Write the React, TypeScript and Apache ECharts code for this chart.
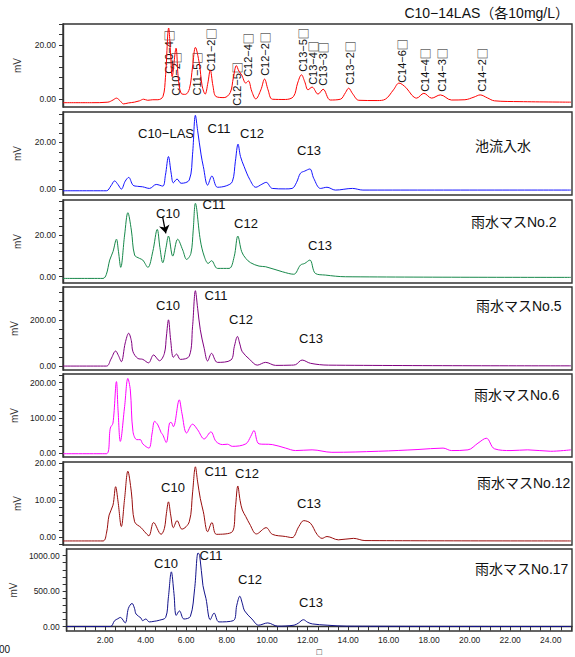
import React, { useEffect, useRef } from "react";
import * as echarts from "echarts";

// ---------- data (retention time [min], signal [mV]) ----------
const stdLAS: number[][] = [
  [0.1, -1.3], [1.5, -1.3], [2.3, -1.1], [2.55, -0.3], [2.72, 0.4], [2.9, -0.6], [3.07, -1.75], [3.3, -1.4],
  [3.6, -1.1], [3.85, -0.6], [4.05, 0], [4.25, -0.4], [4.5, -0.2], [4.75, -0.2], [5.0, 1.0], [5.12, 8],
  [5.28, 26.5], [5.38, 16], [5.45, 8.4], [5.64, 19], [5.75, 8], [5.89, 2.2], [6.1, 1.8], [6.3, 4], [6.45, 12],
  [6.59, 19.3], [6.78, 13.4], [6.92, 5], [7.07, 1.9], [7.2, 6], [7.32, 10.9], [7.45, 5], [7.6, 1.0], [8.0, 0.6],
  [8.3, 2.5], [8.45, 8], [8.6, 12.5], [8.72, 10.5], [8.86, 9], [9.06, 6], [9.19, 6.8], [9.35, 3], [9.55, 0.1],
  [9.8, 3.5], [9.98, 7.5], [10.15, 3.5], [10.36, 0], [11.0, -0.1], [11.4, 1], [11.6, 6], [11.79, 9.1],
  [11.95, 6.5], [12.11, 3.5], [12.31, 4.5], [12.6, 1.9], [12.85, 3.7], [13.2, -0.3], [13.7, 0], [13.95, 2.5],
  [14.1, 4.1], [14.3, 2.0], [14.6, -0.4], [15.5, -0.5], [15.9, 0], [16.3, 3.5], [16.57, 6], [16.94, 4.1],
  [17.2, 1.5], [17.43, 0.4], [17.79, 2.2], [18.17, 0.4], [18.6, 1.6], [19.14, -0.3], [19.8, -0.2], [20.25, 0.8],
  [20.55, 1.6], [20.9, 0.5], [21.25, -0.6], [22.5, -0.9], [25, -1.1],
];

const inflow: number[][] = [
  [0.1, -0.6], [2.23, -0.6], [2.45, 1.5], [2.63, 3.6], [2.8, 2], [2.96, 0.1], [3.15, 3.5], [3.32, 5.1],
  [3.53, 1.8], [3.75, 1.3], [4.0, 1.1], [4.34, 0.4], [4.67, 2.1], [4.99, 1.4], [5.12, 6], [5.27, 14], [5.4, 7],
  [5.51, 2.8], [5.69, 4.4], [5.89, 2.6], [6.29, 4.0], [6.45, 15], [6.59, 31.6], [6.7, 25], [6.87, 14.7],
  [6.98, 9.7], [7.19, 1.8], [7.4, 5.7], [7.67, 0.9], [8.1, 1.5], [8.4, 3.3], [8.55, 12], [8.68, 19.3], [8.8, 14],
  [8.98, 9.7], [9.25, 4.3], [9.55, 0.9], [9.85, 2.2], [10.06, 3.0], [10.36, 0.4], [11.0, 0.2], [11.33, 0.4],
  [11.55, 3], [11.74, 6.9], [11.95, 7.8], [12.2, 8.7], [12.39, 4.7], [12.72, 0.4], [13.04, 0.9], [13.45, -0.3],
  [14.29, 0.4], [14.8, -0.3], [25, -0.3],
];

const no2: number[][] = [
  [0.1, -0.8], [2.06, -0.8], [2.22, 1], [2.39, 8.0], [2.55, 12], [2.72, 18], [2.82, 12], [2.93, 4.5], [3.12, 20],
  [3.28, 30.7], [3.45, 22.4], [3.61, 10.4], [3.85, 8.8], [4.01, 8.0], [4.26, 4.5], [4.5, 12], [4.72, 22.7],
  [4.85, 14], [4.99, 6.7], [5.15, 14], [5.27, 19.5], [5.48, 9.9], [5.72, 18], [5.97, 12.8], [6.16, 8.3],
  [6.37, 11.2], [6.48, 22], [6.59, 35.2], [6.83, 17.6], [7.02, 9.9], [7.22, 6.4], [7.38, 7.7], [7.67, 4.0],
  [8.24, 4.0], [8.49, 9.6], [8.67, 19.5], [8.86, 12], [9.06, 8.8], [9.3, 6.7], [9.71, 5.1], [10.03, 4.8],
  [10.85, 2.4], [11.41, 1.2], [11.74, 5.6], [11.95, 6.4], [12.2, 8.0], [12.47, 1.6], [12.96, 0.8], [13.94, 0],
  [25, -0.3],
];

const no5: number[][] = [
  [0.1, 0], [2.23, 0], [2.45, 30], [2.68, 65], [2.82, 45], [2.96, 19], [3.15, 100], [3.32, 142], [3.45, 110],
  [3.53, 62], [3.77, 33], [4.01, 29], [4.29, 14], [4.54, 48], [4.83, 23], [5.07, 55], [5.17, 130], [5.27, 200],
  [5.38, 110], [5.51, 38], [5.67, 52], [5.85, 29], [6.29, 43], [6.45, 170], [6.59, 326], [6.7, 250],
  [6.83, 157], [7.02, 77], [7.19, 22], [7.38, 55], [7.67, 16], [8.33, 26], [8.5, 85], [8.65, 128], [8.77, 95],
  [8.89, 62], [9.25, 29], [9.62, 4], [10.03, 16], [10.52, 3], [11.3, 4], [11.5, 6], [11.82, 26], [12.23, 12],
  [13.12, 4], [25, 1],
];

const no6: number[][] = [
  [0.1, -2], [2.23, -2], [2.42, 71], [2.55, 85], [2.72, 203], [2.8, 120], [2.91, 33], [3.12, 132], [3.28, 212],
  [3.4, 179], [3.53, 61], [3.72, 38], [3.89, 38], [4.01, 26], [4.31, 14], [4.47, 57], [4.59, 90], [4.75, 80],
  [4.91, 58], [4.99, 52], [5.16, 30], [5.32, 85], [5.4, 87], [5.51, 75], [5.8, 151], [5.93, 113], [6.16, 57],
  [6.45, 82], [6.7, 66], [7.02, 40], [7.35, 60], [7.6, 33], [7.92, 24], [8.16, 25], [8.4, 19], [9.06, 26],
  [9.3, 47], [9.46, 64], [9.71, 26], [10.36, 24], [11.01, 14], [11.5, 7], [12.31, 9], [13.28, 2], [15.56, 5],
  [17.5, 10], [18.73, 14], [19.14, 7], [19.95, 9], [20.44, 28], [20.85, 42], [21.25, 12], [22.06, 7],
  [22.88, 9], [24.0, 5], [25, 9],
];

const no12: number[][] = [
  [0.1, -1], [2.06, -1], [2.23, 1.1], [2.36, 6.0], [2.55, 8.7], [2.68, 13.7], [2.8, 9.6], [2.96, 2.9],
  [3.12, 10.5], [3.28, 17.9], [3.45, 12.3], [3.61, 4.2], [3.93, 2.6], [4.1, 1.5], [4.31, 0.4], [4.54, 4.0],
  [4.91, 0.8], [5.07, 2.4], [5.17, 6.5], [5.27, 9.6], [5.38, 6], [5.51, 2.6], [5.69, 4.5], [5.93, 2.2],
  [6.29, 4.2], [6.45, 12], [6.59, 19.1], [6.7, 15], [6.83, 10.5], [6.98, 6.9], [7.19, 1.5], [7.4, 4.0],
  [7.62, 0.8], [8.4, 1.5], [8.55, 8], [8.67, 13.9], [8.78, 10], [8.89, 7.4], [9.06, 5.6], [9.25, 3.6],
  [9.58, 0.9], [10.06, 2.6], [10.36, 0.8], [11.01, 0.2], [11.33, -0.1], [11.66, 2.9], [11.9, 4.5], [12.23, 3.8],
  [12.55, 0.8], [12.8, -0.3], [13.04, 0.2], [13.6, -0.7], [14.34, -0.3], [14.9, -0.9], [25, -1],
];

const no17: number[][] = [
  [0.1, 0], [2.26, 0], [2.47, 83], [2.63, 110], [2.75, 129], [2.99, 51], [3.15, 257], [3.33, 326], [3.45, 257],
  [3.53, 175], [3.77, 120], [3.85, 83], [4.01, 106], [4.18, 65], [4.42, 74], [4.67, 88], [4.99, 129], [5.12, 400],
  [5.27, 771], [5.4, 464], [5.51, 157], [5.67, 220], [5.89, 106], [6.21, 143], [6.42, 533], [6.59, 1038],
  [6.67, 1001], [6.83, 578], [6.98, 395], [7.19, 96], [7.38, 189], [7.62, 65], [8.33, 83], [8.5, 300],
  [8.65, 427], [8.77, 330], [8.89, 220], [9.25, 106], [9.58, 19], [10.03, 51], [10.52, 5], [11.33, 19],
  [11.55, 50], [11.79, 96], [12.0, 60], [12.23, 37], [12.96, 19], [13.94, 5], [25, 0],
];

const panelSeries = [stdLAS, inflow, no2, no5, no6, no12, no17];
const panelNames = ["C10−14LAS（各10mg/L）", "池流入水", "雨水マスNo.2", "雨水マスNo.5", "雨水マスNo.6", "雨水マスNo.12", "雨水マスNo.17"];
const yLabelValues = [[0, 20], [0, 20], [0, 20], [0, 200], [0, 100, 200], [0, 10, 20], [0, 500, 1000]];
const yTickSteps = [4, 4, 4, 40, 20, 2, 100];
const yRanges = [[-2.9, 28], [-2.4, 33], [-3.0, 36.8], [-17, 342], [-11.3, 224.6], [-2.1, 20.4], [-63, 1093]];
const xTickLabels = [2, 4, 6, 8, 10, 12, 14, 16, 18, 20, 22, 24];
const xRange = [0.1, 25.05];
const arrowFrom = [4.98, 28.8];
const arrowTo = [5.14, 20.8];

// ---------- styles / layout ----------
const COLORS = ["#ff0000", "#1414ff", "#17884a", "#800080", "#ff00ff", "#980c0c", "#12128a"];
const GRID_TOPS = [24, 112, 200, 287, 374, 462, 549];
const GRID_H = [83, 83, 83, 83, 83, 83, 84];
const LEFT = 63;
const RIGHT_EDGE = 572;
const FONT = '"Liberation Sans", Arial, "Noto Sans CJK JP", sans-serif';
const CJK = '"Noto Sans CJK JP", sans-serif';

const stdPeakLabels = [
  { t: "C10−4", x: 169, y: 52 }, { t: "C10−2", x: 176, y: 74 }, { t: "C11−5", x: 197, y: 74 },
  { t: "C11−2", x: 211, y: 50 }, { t: "C12−5", x: 237, y: 84 }, { t: "C12−4", x: 248, y: 55 },
  { t: "C12−2", x: 265, y: 54 }, { t: "C13−5", x: 303, y: 50 }, { t: "C13−4", x: 313, y: 63 },
  { t: "C13−3", x: 323, y: 64 }, { t: "C13−2", x: 350, y: 63 }, { t: "C14−6", x: 402, y: 61 },
  { t: "C14−4", x: 425, y: 70 }, { t: "C14−3", x: 442, y: 70 }, { t: "C14−2", x: 482, y: 70 },
];
const peakLabels = [
  { t: "C10−LAS", x: 166, y: 133 }, { t: "C11", x: 219, y: 128 }, { t: "C12", x: 252, y: 133 }, { t: "C13", x: 309, y: 150 },
  { t: "C10", x: 168, y: 213 }, { t: "C11", x: 214, y: 204 }, { t: "C12", x: 246, y: 223 }, { t: "C13", x: 320, y: 245 },
  { t: "C10", x: 168, y: 305 }, { t: "C11", x: 216, y: 295 }, { t: "C12", x: 241, y: 319 }, { t: "C13", x: 311, y: 338 },
  { t: "C10", x: 173, y: 487 }, { t: "C11", x: 216, y: 471 }, { t: "C12", x: 247, y: 473 }, { t: "C13", x: 309, y: 503 },
  { t: "C10", x: 166, y: 563 }, { t: "C11", x: 211, y: 555 }, { t: "C12", x: 250, y: 579 }, { t: "C13", x: 311, y: 602 },
];
const nameLabelPos = [
  null, { x: 475, y: 146 }, { x: 471, y: 222 }, { x: 476, y: 306 }, { x: 474, y: 395 }, { x: 477, y: 483 }, { x: 475, y: 569 },
];

function ticksFor(min: number, max: number, step: number): number[] {
  const out: number[] = [];
  for (let v = Math.ceil(min / step) * step; v <= max + 1e-9; v += step) out.push(+v.toFixed(6));
  return out;
}

export default function App() {
  const ref = useRef<HTMLDivElement>(null);
  useEffect(() => {
    if (!ref.current) return;
    const chart = echarts.init(ref.current, undefined, { renderer: "svg" });
    const n = panelSeries.length;
    const grids = GRID_TOPS.map((top, i) => ({
      left: LEFT, top, width: RIGHT_EDGE - LEFT, height: GRID_H[i],
      show: true, borderColor: "#333", borderWidth: 1.4, backgroundColor: "#fff",
    }));
    const xAxes = panelSeries.map((_, i) => {
      const last = i === n - 1;
      return {
        type: "value", gridIndex: i, min: xRange[0], max: xRange[1], show: last,
        splitLine: { show: false },
        axisLine: { show: last, lineStyle: { color: "#333", width: 1.4 } },
        axisTick: { show: last, customValues: ticksFor(0.5, 25, 0.5), length: 4, lineStyle: { color: "#333" } },
        axisLabel: {
          show: last, customValues: xTickLabels, formatter: (v: number) => v.toFixed(2),
          fontSize: 8.5, color: "#222", fontFamily: FONT, margin: 5,
        },
        name: last ? "□" : "", nameLocation: "middle", nameGap: 16,
        nameTextStyle: { fontSize: 9, color: "#222", fontFamily: FONT },
      };
    });
    const yAxes = panelSeries.map((_, i) => ({
      type: "value", gridIndex: i, min: yRanges[i][0], max: yRanges[i][1],
      splitLine: { show: false },
      axisLine: { show: true, lineStyle: { color: "#333", width: 1.4 } },
      axisTick: { show: true, customValues: ticksFor(yRanges[i][0], yRanges[i][1], yTickSteps[i]), length: 4, lineStyle: { color: "#333" } },
      axisLabel: {
        customValues: yLabelValues[i], formatter: (v: number) => v.toFixed(2),
        fontSize: 8.5, color: "#222", fontFamily: FONT, margin: 7,
      },
      name: "mV", nameLocation: "middle", nameGap: 41, nameRotate: 90,
      nameTextStyle: { fontSize: 10, color: "#333", fontFamily: FONT },
    }));
    const series: any[] = panelSeries.map((d, i) => ({
      type: "line", xAxisIndex: i, yAxisIndex: i, data: d, showSymbol: false, smooth: 0.35,
      lineStyle: { color: COLORS[i], width: 1 }, itemStyle: { color: COLORS[i] }, silent: true,
      markLine: i === 2 ? {
        silent: true, symbol: ["none", "arrow"], symbolSize: 8,
        lineStyle: { color: "#000", width: 1.3, type: "solid" }, label: { show: false },
        data: [[{ coord: arrowFrom }, { coord: arrowTo }]],
      } : undefined,
    }));
    const graphics: any[] = [];
    graphics.push({
      type: "text", right: 6, top: 6,
      style: { text: panelNames[0], fontSize: 14, fill: "#111", fontFamily: FONT },
    });
    nameLabelPos.forEach((p, i) => {
      if (!p) return;
      graphics.push({
        type: "text", x: p.x, y: p.y,
        style: { text: panelNames[i], fontSize: 14, fill: "#111", fontFamily: FONT, align: "left", verticalAlign: "middle" },
      });
    });
    stdPeakLabels.forEach((p) => {
      graphics.push({
        type: "text", x: p.x, y: p.y, rotation: Math.PI / 2,
        style: {
          text: `{a|${p.t}}{b|□}`, fill: "#111", align: "center", verticalAlign: "middle",
          rich: {
            a: { fontSize: 11, fontFamily: FONT, fill: "#111" },
            b: { fontSize: 11, fontFamily: CJK, fill: "#111" },
          },
        },
      });
    });
    peakLabels.forEach((p) => {
      graphics.push({
        type: "text", x: p.x, y: p.y,
        style: { text: p.t, fontSize: 13, fill: "#111", fontFamily: FONT, align: "center", verticalAlign: "middle" },
      });
    });
    graphics.push({
      type: "text", x: -1, y: 649,
      style: { text: "00", fontSize: 10, fill: "#111", fontFamily: FONT, align: "left", verticalAlign: "middle" },
    });
    chart.setOption({
      animation: false,
      backgroundColor: "#fff",
      grid: grids,
      xAxis: xAxes,
      yAxis: yAxes,
      series,
      graphic: graphics,
    });
    return () => chart.dispose();
  }, []);
  return <div ref={ref} style={{ position: "absolute", left: 0, top: 0, width: 575, height: 657 }} />;
}
